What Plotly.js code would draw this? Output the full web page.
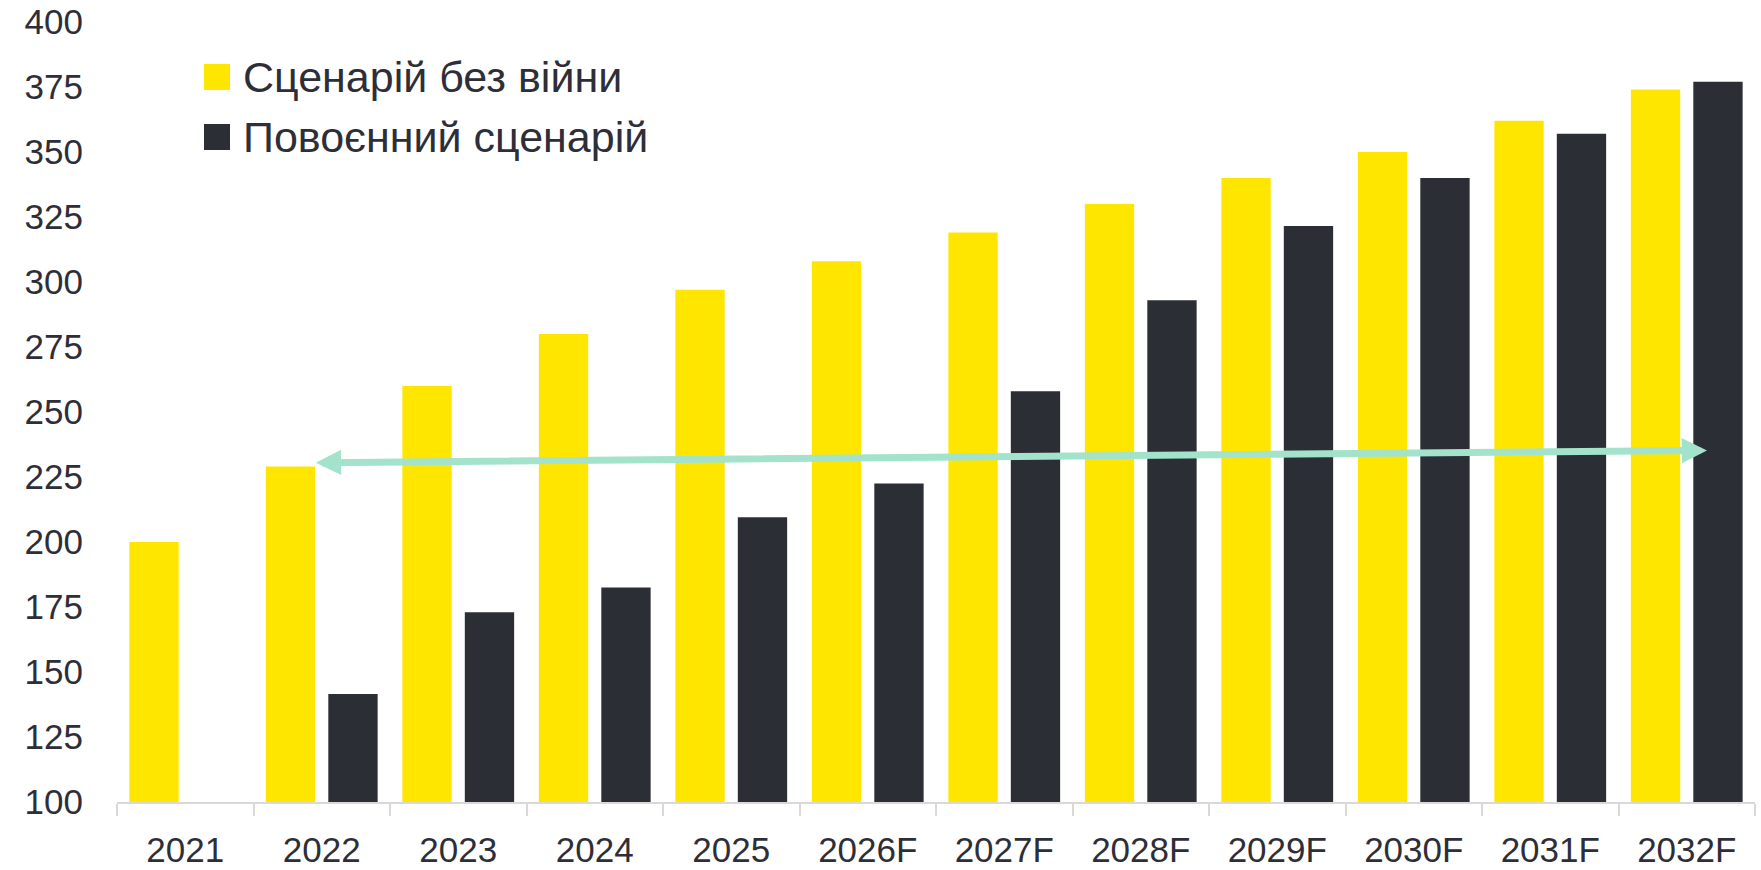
<!DOCTYPE html>
<html>
<head>
<meta charset="utf-8">
<script src="https://cdn.plot.ly/plotly-3.0.1.min.js"></script>
<style>html,body{margin:0;padding:0;background:#fff;}#chart{width:1761px;height:870px;}</style>
</head>
<body>
<div id="chart"></div>
<script>
const categories = ['2021','2022','2023','2024','2025','2026F','2027F','2028F','2029F','2030F','2031F','2032F'];
const noWarValues = [200, 229, 260, 280, 297, 308, 319, 330, 340, 350, 362, 374];
const warValues = [null, 141.5, 173, 182.5, 209.5, 222.5, 258, 293, 321.5, 340, 357, 377];
const seriesNames = ['Сценарій без війни', 'Повоєнний сценарій'];
const yTicks = [100,125,150,175,200,225,250,275,300,325,350,375,400];
// arrow endpoints (category index, value)
const arrowStart = [0.946, 230.5];
const arrowEnd = [11.148, 235.2];

const textColor = '#2E2E38';
const yellow = '#FFE600';
const dark = '#2B2E35';
const fontFam = '"Liberation Sans", Arial, sans-serif';

const traces = [
  {type:'bar', name: seriesNames[0], x: categories, y: noWarValues, marker:{color: yellow}, showlegend:false, hoverinfo:'x+y'},
  {type:'bar', name: seriesNames[1], x: categories, y: warValues, marker:{color: dark}, showlegend:false, hoverinfo:'x+y'}
];

const layout = {
  width:1761, height:870,
  margin:{l:117, r:6, t:22, b:68},
  paper_bgcolor:'#fff', plot_bgcolor:'#fff',
  barmode:'group', bargap:0.085, bargroupgap:0.21,
  font:{family: fontFam, color: textColor, size: 35},
  xaxis:{
    type:'category', showgrid:false, zeroline:false,
    showline:true, linecolor:'#D9D9D9', linewidth:2,
    ticks:'outside', tickson:'boundaries', ticklen:12, tickwidth:2, tickcolor:'#D9D9D9',
    tickfont:{size:35, color:textColor, family:fontFam},
    ticklabelstandoff: 16
  },
  yaxis:{
    range:[100,400], tickvals:yTicks, ticktext: yTicks.map(String),
    showgrid:false, zeroline:false, showline:false, ticks:'',
    tickfont:{size:35, color:textColor, family:fontFam},
    ticklabelstandoff: 33
  },
  shapes:[
    {type:'rect', xref:'paper', yref:'paper', x0:0.0531, x1:0.069, y0:0.9128, y1:0.9462, fillcolor:yellow, line:{width:0}},
    {type:'rect', xref:'paper', yref:'paper', x0:0.0531, x1:0.069, y0:0.8359, y1:0.8692, fillcolor:dark, line:{width:0}}
  ],
  annotations:[
    {xref:'paper', yref:'paper', x:0.0757, y:0.9295, xanchor:'left', yanchor:'middle', text:seriesNames[0], showarrow:false, font:{size:43, color:textColor, family:fontFam}},
    {xref:'paper', yref:'paper', x:0.0757, y:0.8526, xanchor:'left', yanchor:'middle', text:seriesNames[1], showarrow:false, font:{size:43, color:textColor, family:fontFam}},
    {xref:'x', yref:'y', axref:'x', ayref:'y', x:arrowEnd[0], y:arrowEnd[1], ax:arrowStart[0], ay:arrowStart[1],
     text:'', showarrow:true, arrowside:'end+start', arrowhead:2, startarrowhead:2, arrowsize:0.72, startarrowsize:0.72,
     arrowwidth:7, arrowcolor:'#A3E3CB', standoff:0, startstandoff:0}
  ]
};

Plotly.newPlot('chart', traces, layout, {displayModeBar:false, staticPlot:true});
</script>
</body>
</html>
